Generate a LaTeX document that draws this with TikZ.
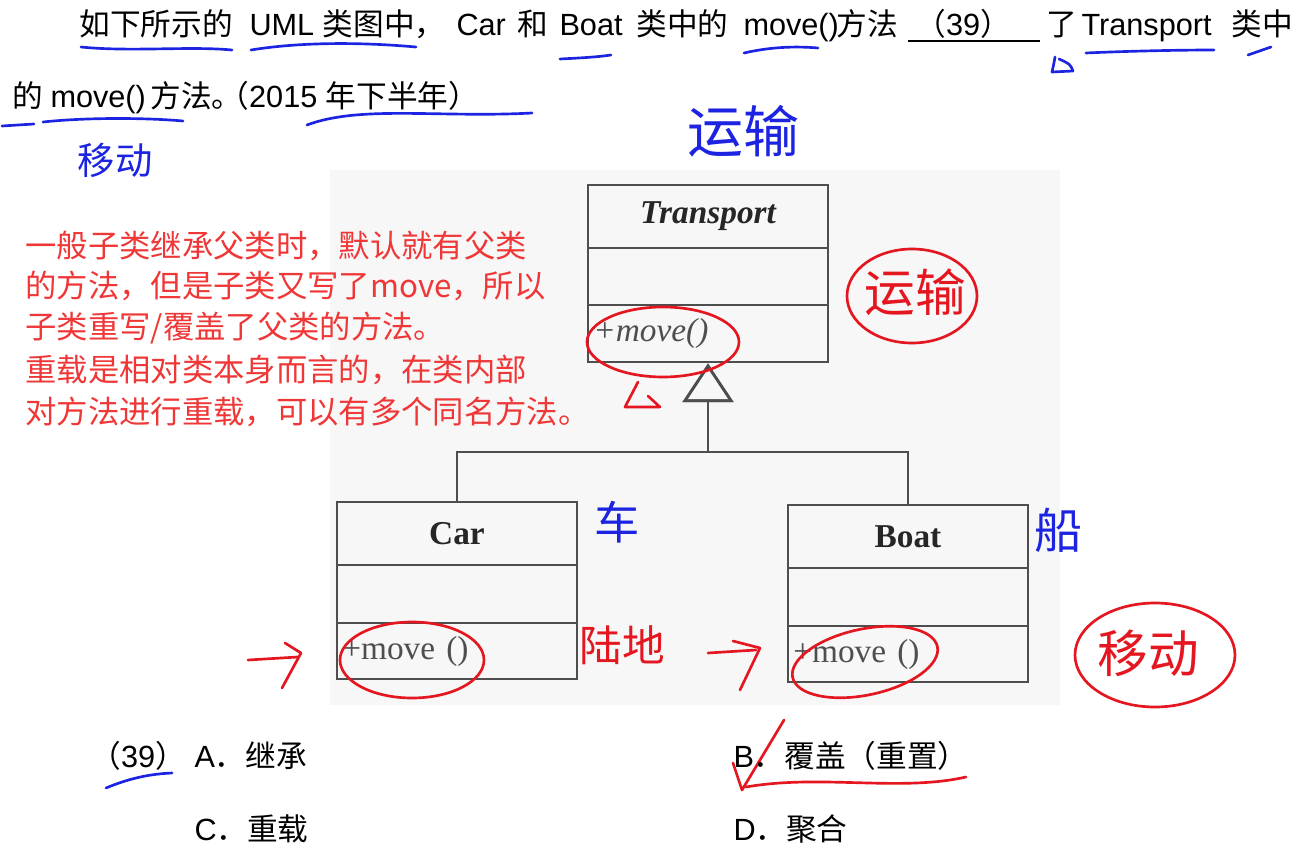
\documentclass[tikz,border=0pt]{standalone}
\usepackage{fontspec}
\setmainfont{Liberation Sans}
\newfontfamily\cjk{Noto Sans CJK SC}
\newfontfamily\umlfont{Liberation Serif}
\usetikzlibrary{arrows.meta}

\definecolor{penblue}{RGB}{28,36,225}
\definecolor{penred}{RGB}{228,22,32}
\definecolor{notered}{RGB}{240,55,55}
\definecolor{umlgray}{RGB}{78,78,78}

\tikzset{every picture/.style={line width=0.75pt}}
\tikzset{
  question/.style={anchor=base west, inner sep=0pt, font=\fontsize{23}{28}\selectfont},
  noteline/.style={anchor=base west, inner sep=0pt, text=notered, font=\cjk\fontsize{23.5}{28}\selectfont},
  umlbox/.style={draw=umlgray, line width=2.2pt, minimum width=180pt, inner sep=0pt, text=black!85, font=\umlfont\fontsize{25}{30}\selectfont},
  umlops/.style={umlbox, text width=172pt, align=left, text=umlgray},
  gen/.style={draw=umlgray, line width=2pt, -{Triangle[open, length=29pt, width=38pt]}},
  pen/.style={line width=2pt, line cap=round, line join=round},
  blueink/.style={pen, draw=penblue},
  redink/.style={pen, draw=penred},
  hand/.style={inner sep=0pt, font=\cjk\fontsize{#1}{#1}\selectfont},
}

\begin{document}
\begin{tikzpicture}[x=0.75pt,y=0.75pt,yscale=-1,xscale=1]
\useasboundingbox (0,0) rectangle (1304,849);
\fill[white] (0,0) rectangle (1304,849);
%Scanned figure background
\fill[black!3] (330,170) rectangle (1060,705);

% Text Node: question
\node[question] (q1) at (79,36) {\cjk 如下所示的};
\node[question] (q2) at (249,36) {UML {\cjk 类图中，}};
\node[question] (q3) at (456,36) {Car};
\node[question] (q4) at (517,36) {\cjk 和};
\node[question] (q5) at (559,36) {Boat};
\node[question] (q6) at (636,36) {\cjk 类中的};
\node[question] (q7) at (743,36) {move()};
\node[question] (q8) at (836,36) {\cjk 方法};
\node[question] (q9) at (915,36) {{\cjk （}39{\cjk ）}};
\node[question] (q10) at (1046,36) {\cjk 了};
\node[question] (q11) at (1081,36) {Transport};
\node[question] (q12) at (1231,36) {\cjk 类中};
\node[question] (r1) at (12,108) {\cjk 的};
\node[question] (r2) at (50,108) {move()};
\node[question] (r3) at (150,108) {\cjk 方法。};
\node[question] (r4) at (218,108) {{\cjk （}2015 {\cjk 年下半年）}};
%Straight Lines: answer blank
\draw [line width=1.6pt] (908,41) -- (1040,41) ;

% Text Node: red note
\node[noteline] (n1) at (25,257) {一般子类继承父类时，默认就有父类};
\node[noteline] (n2) at (25,297) {的方法，但是子类又写了move，所以};
\node[noteline] (n3) at (25,338) {子类重写/覆盖了父类的方法。};
\node[noteline] (n4) at (25,381) {重载是相对类本身而言的，在类内部};
\node[noteline] (n5) at (25,423) {对方法进行重载，可以有多个同名方法。};

%UML class: Transport
\node[umlbox, minimum height=47.25pt] (tphead) at (708,216.5) {\bfseries\itshape Transport};
\node[umlbox, minimum height=42.75pt] (tpattr) at (708,276.5) {};
\node[umlops, minimum height=42.75pt] (tpops) at (708,333.5) {\itshape +move()};
%UML class: Car
\node[umlbox, minimum height=47.25pt] (carhead) at (457,533.5) {\bfseries Car};
\node[umlbox, minimum height=43.5pt] (carattr) at (457,594) {};
\node[umlops, minimum height=42pt] (carops) at (457,651) {+move ()};
%UML class: Boat
\node[umlbox, minimum height=47.25pt] (boathead) at (908,536.5) {\bfseries Boat};
\node[umlbox, minimum height=43.5pt] (boatattr) at (908,597) {};
\node[umlops, minimum height=42pt] (boatops) at (908,654) {+move ()};

%Generalization
\coordinate (jn) at (708,452);
\draw [gen] (carhead.north) |- (jn) -- (tpops.south) ;
\draw [gen] (boathead.north) |- (jn) -- (tpops.south) ;

%Handwriting: blue
\draw [blueink] (81,47) .. controls (130,52) and (190,46) .. (232,50) ;
\draw [blueink] (251,50) .. controls (300,42) and (360,42) .. (416,47) ;
\draw [blueink] (560,59) .. controls (580,58) and (598,57) .. (611,55) ;
\draw [blueink] (744,53) .. controls (770,47) and (795,46) .. (818,48) ;
\draw [blueink] (1055,57) .. controls (1054,63) .. (1052,72) -- (1073,71) .. controls (1070,64) .. (1059,59) ;
\draw [blueink] (1086,53) .. controls (1130,51) and (1180,50) .. (1214,50) ;
\draw [blueink] (1248,55) -- (1271,47) ;
\draw [blueink] (2,126) -- (34,124) ;
\draw [blueink] (43,122) .. controls (90,117) and (150,118) .. (183,121) ;
\draw [blueink] (307,125) .. controls (360,105) and (440,118) .. (532,113) ;
\draw [blueink] (106,788) .. controls (130,778) and (150,774) .. (172,773) ;
\node[hand=28, text=penblue] (w1) at (115,160) {移动};
\node[hand=42, text=penblue] (w2) at (743,131) {运输};
\node[hand=34, text=penblue] (w3) at (617,522) {车};
\node[hand=36, text=penblue] (w4) at (1058,530) {船};

%Handwriting: red
\draw [redink] (663,342) ellipse [x radius=76, y radius=35] ;
\draw [redink] (912,296) ellipse [x radius=65, y radius=47] ;
\draw [redink] (412,660) ellipse [x radius=72, y radius=38] ;
\draw [redink, rotate around={-12:(865,662)}] (865,662) ellipse [x radius=74, y radius=33] ;
\draw [redink] (1155,655) ellipse [x radius=80, y radius=52] ;
\draw [redink] (638,382) -- (625,407) -- (660,407) -- (648,396) ;
\draw [redink] (248,660) -- (298,657) ;
\draw [redink] (285,643) -- (301,653) -- (282,688) ;
\draw [redink] (708,653) -- (756,650) ;
\draw [redink] (733,641) -- (760,648) -- (740,690) ;
\draw [redink] (733,763) -- (742,790) -- (784,720) ;
\draw [redink] (746,787) .. controls (820,774) and (900,792) .. (966,777) ;
\node[hand=38, text=penred] (w5) at (915,292) {运输};
\node[hand=32, text=penred] (w6) at (622,645) {陆地};
\node[hand=38, text=penred] (w7) at (1148,653) {移动};

% Text Node: options
\node[question] (o0) at (90,767) {{\cjk （}39{\cjk ）}};
\node[question] (oa) at (194,767) {A{\cjk ．继承}};
\node[question] (ob) at (733,767) {B{\cjk ．覆盖（重置）}};
\node[question] (oc) at (194,840) {C{\cjk ．重载}};
\node[question] (od) at (733,840) {D{\cjk ．聚合}};

\end{tikzpicture}
\end{document}
